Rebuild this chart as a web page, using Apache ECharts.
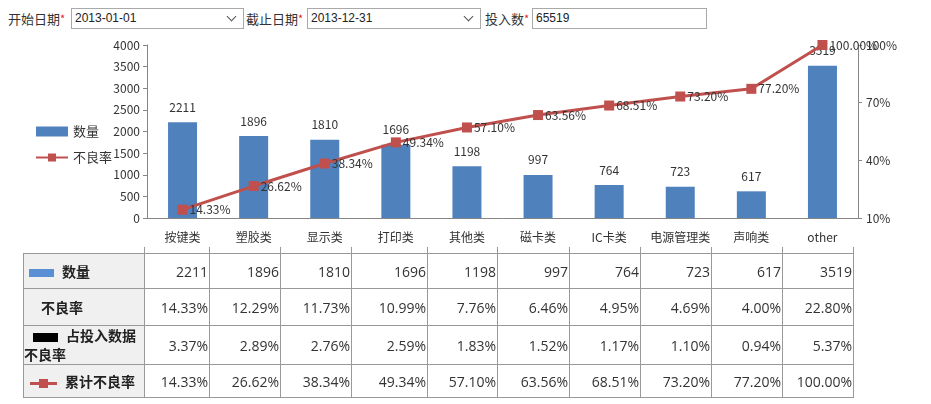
<!DOCTYPE html>
<html>
<head>
<meta charset="utf-8">
<script src="https://cdn.jsdelivr.net/npm/echarts@6/dist/echarts.min.js"></script>
<style>
body { margin: 0; background: #fff; width: 931px; height: 404px; position: relative; overflow: hidden; font-family: "Noto Sans CJK SC", sans-serif; }
.lbl { position: absolute; top: 8px; font-size: 13px; color: #333; line-height: 21px; }
.lbl i { color: #d22; font-style: normal; font-size: 11px; vertical-align: top; }
.box { position: absolute; top: 8px; height: 19px; border: 1px solid #a9a9a9; background: #fff;
  font-family: "Liberation Sans", Arial, sans-serif; font-size: 12px; color: #222; line-height: 19px; padding-left: 3px; box-sizing: content-box; }
.chev { position: absolute; right: 8px; top: 4px; width: 6px; height: 6px; border-right: 1px solid #555; border-bottom: 1px solid #555; transform: rotate(45deg); }
#chart { position: absolute; left: 0; top: 36px; width: 931px; height: 212px; }
#tbl { position: absolute; left: 23px; top: 247px; border-collapse: collapse; table-layout: fixed; }
#tbl td { border: 1px solid #999; padding: 0 1px 0 0; text-align: right; font-family: "Open Sans", "Noto Sans", sans-serif; font-size: 14px; color: #333; }
#tbl tr.tick td { border-top: none; border-left-color: transparent; height: 6px; padding: 0; }
#tbl tr.tick td.v { border-left-color: #999; }
#tbl td.h { background: #f0f0f0; text-align: left; font-family: "Noto Sans CJK SC", sans-serif; font-weight: bold; font-size: 14px; color: #222; }
.sw { display: inline-block; vertical-align: middle; margin-right: 8px; }
</style>
</head>
<body>
<div class="lbl" style="left:8px">开始日期<i>*</i></div>
<div class="box" style="left:71px;width:168px">2013-01-01<span class="chev"></span></div>
<div class="lbl" style="left:246px">截止日期<i>*</i></div>
<div class="box" style="left:307px;width:169px">2013-12-31<span class="chev"></span></div>
<div class="lbl" style="left:485px">投入数<i>*</i></div>
<div class="box" style="left:532px;width:170px">65519</div>
<div id="chart"></div>
<table id="tbl"></table>
<script>
var categories = ["按键类", "塑胶类", "显示类", "打印类", "其他类", "磁卡类", "IC卡类", "电源管理类", "声响类", "other"];
var quantity = [2211, 1896, 1810, 1696, 1198, 997, 764, 723, 617, 3519];
var defectRate = ["14.33%", "12.29%", "11.73%", "10.99%", "7.76%", "6.46%", "4.95%", "4.69%", "4.00%", "22.80%"];
var inputShare = ["3.37%", "2.89%", "2.76%", "2.59%", "1.83%", "1.52%", "1.17%", "1.10%", "0.94%", "5.37%"];
var cumulative = [14.33, 26.62, 38.34, 49.34, 57.10, 63.56, 68.51, 73.20, 77.20, 100.00];
var leftTicks = { min: 0, max: 4000, interval: 500 };
var rightTicks = { min: 10, max: 100, interval: 30 };

var colWidths = [121, 65, 71, 71, 76, 70, 72, 71, 71, 71, 71];

// table under the chart
var tbl = document.getElementById("tbl");
var html = "<colgroup>" + colWidths.map(function (w) { return '<col style="width:' + w + 'px">'; }).join("") + "</colgroup>";
html += '<tr class="tick"><td></td>' + categories.map(function () { return '<td class="v"></td>'; }).join("") + "</tr>";
var rows = [
  { head: '<span class="sw" style="width:25px;height:8px;background:#5b8fd4;margin-left:5px"></span>数量', vals: quantity, h: 35 },
  { head: '<span style="padding-left:17px">不良率</span>', vals: defectRate, h: 37 },
  { head: '<div style="line-height:19px"><span class="sw" style="width:25px;height:9px;background:#000;margin-left:9px"></span>占投入数据<br>不良率</div>', vals: inputShare, h: 39 },
  { head: '<span class="sw" style="width:27px;height:3px;background:#c0504d;margin-left:6px;position:relative"><span style="position:absolute;left:9px;top:-3px;width:9px;height:9px;background:#c0504d"></span></span>累计不良率', vals: cumulative.map(function (v) { return v.toFixed(2) + "%"; }), h: 33 }
];
rows.forEach(function (r) {
  html += '<tr style="height:' + r.h + 'px"><td class="h">' + r.head + "</td>" +
    r.vals.map(function (v) { return "<td>" + v + "</td>"; }).join("") + "</tr>";
});
tbl.innerHTML = html;

var chart = echarts.init(document.getElementById("chart"));
var txt = { color: "#333", fontSize: 12, fontFamily: "Noto Sans CJK SC" };
chart.setOption({
  animation: false,
  grid: { left: 147, right: 73, top: 9, height: 173 },
  legend: {
    orient: "vertical", left: 30, top: 84,
    itemWidth: 32, itemHeight: 10, itemGap: 13,
    textStyle: Object.assign({}, txt, { fontSize: 13 }),
    data: [{ name: "数量", icon: "rect" }, { name: "不良率" }]
  },
  xAxis: {
    type: "category",
    data: categories,
    axisLine: { lineStyle: { color: "#868686" } },
    axisTick: { show: false },
    axisLabel: Object.assign({ margin: 13, interval: 0 }, txt)
  },
  yAxis: [
    {
      type: "value", min: leftTicks.min, max: leftTicks.max, interval: leftTicks.interval,
      axisLine: { show: true, lineStyle: { color: "#868686" } },
      axisTick: { show: true, length: 4 },
      splitLine: { show: false },
      axisLabel: Object.assign({ margin: 7, formatter: function (v) { return String(v); } }, txt)
    },
    {
      type: "value", min: rightTicks.min, max: rightTicks.max, interval: rightTicks.interval,
      axisLine: { show: true, lineStyle: { color: "#868686" } },
      axisTick: { show: true, length: 4 },
      splitLine: { show: false },
      axisLabel: Object.assign({ margin: 8, formatter: "{value}%" }, txt)
    }
  ],
  series: [
    {
      name: "数量", type: "bar", data: quantity, barWidth: 29,
      itemStyle: { color: "#4f81bd" },
      label: Object.assign({ show: true, position: "top", distance: 9 }, txt)
    },
    {
      name: "不良率", type: "line", yAxisIndex: 1, data: cumulative,
      symbol: "rect", symbolSize: 10,
      lineStyle: { color: "#c0504d", width: 3 },
      itemStyle: { color: "#c0504d" },
      label: Object.assign({ show: true, position: "right", distance: 2,
        formatter: function (p) { return p.value.toFixed(2) + "%"; } }, txt)
    }
  ]
});
</script>
</body>
</html>
